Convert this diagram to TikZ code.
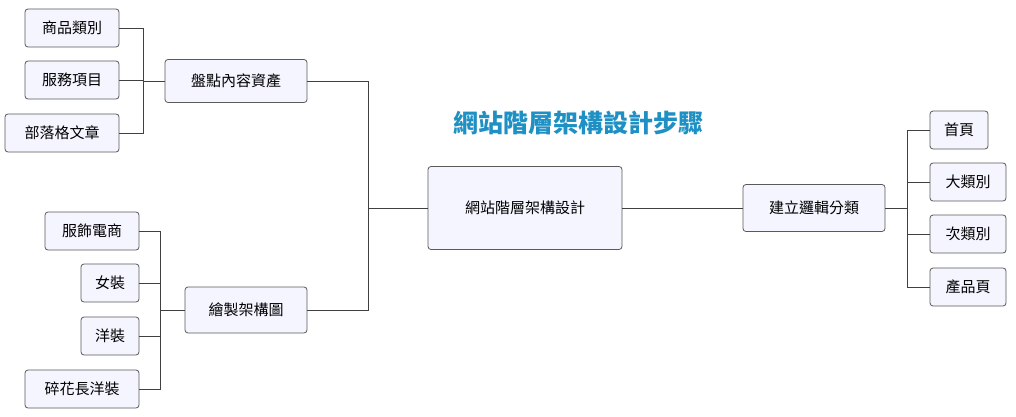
\documentclass[tikz,border=0pt]{standalone}
\usepackage{fontspec}
\setmainfont{Noto Sans CJK TC}
\begin{document}
\begin{tikzpicture}[x=1pt,y=-1pt,
 bx/.style={draw=black!65,fill=blue!4!white,rounded corners=3pt,line width=0.8pt,inner sep=0pt,font=\fontsize{15}{18}\selectfont},
 ln/.style={draw=black!75,line width=0.8pt}]
\useasboundingbox (0,0) rectangle (1016,417);
\node[bx,minimum width=94,minimum height=38] (a1) at (72,28) {商品類別};
\node[bx,minimum width=94,minimum height=38] (a2) at (72,80) {服務項目};
\node[bx,minimum width=114,minimum height=38] (a3) at (62,133) {部落格文章};
\node[bx,minimum width=142,minimum height=43] (A) at (236,81) {盤點內容資產};
\node[bx,minimum width=94,minimum height=38] (b1) at (92,231) {服飾電商};
\node[bx,minimum width=58,minimum height=38] (b2) at (110,283) {女裝};
\node[bx,minimum width=58,minimum height=38] (b3) at (110,336) {洋裝};
\node[bx,minimum width=114,minimum height=38] (b4) at (82,389) {碎花長洋裝};
\node[bx,minimum width=122,minimum height=46] (B) at (246,310) {繪製架構圖};
\node[bx,minimum width=194,minimum height=83] (C) at (525,208) {網站階層架構設計};
\node[font=\bfseries\fontsize{25}{30}\selectfont,text={rgb,255:red,30;green,144;blue,196}] (T) at (578,123) {網站階層架構設計步驟};
\node[bx,minimum width=142,minimum height=47] (D) at (814,208) {建立邏輯分類};
\node[bx,minimum width=58,minimum height=38] (d1) at (959,130) {首頁};
\node[bx,minimum width=76,minimum height=38] (d2) at (968,182) {大類別};
\node[bx,minimum width=76,minimum height=38] (d3) at (968,234) {次類別};
\node[bx,minimum width=76,minimum height=38] (d4) at (968,287) {產品頁};
\coordinate (ja) at (143,81);
\coordinate (jb) at (160,310);
\coordinate (jc) at (368,208);
\coordinate (jd) at (907,208);
\draw[ln] (a1.east) -| (ja) (a2.east) -| (ja) (a3.east) -| (ja) (ja) -- (A.west);
\draw[ln] (b1.east) -| (jb) (b2.east) -| (jb) (b3.east) -| (jb) (b4.east) -| (jb) (jb) -- (B.west);
\draw[ln] (A.east) -| (jc) (B.east) -| (jc) (jc) -- (C.west);
\draw[ln] (C.east) -- (D.west);
\draw[ln] (D.east) -- (jd) (d1.west) -| (jd) (d2.west) -| (jd) (d3.west) -| (jd) (d4.west) -| (jd);
\end{tikzpicture}
\end{document}
